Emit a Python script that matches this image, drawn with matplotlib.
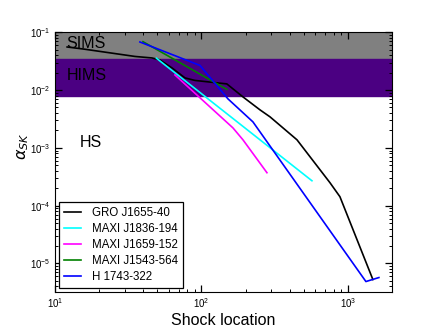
import matplotlib
matplotlib.use('Agg')
import matplotlib.pyplot as plt

# valores (x = posição do choque, y = alpha_SK)
gro_x = [12.1, 15.5, 35.2, 45.9, 52.1, 62.9, 77.2, 90.3, 149, 192, 251, 294, 449, 754, 882, 1481]
gro_y = [0.0557, 0.0515, 0.0382, 0.036, 0.0332, 0.0242, 0.01625, 0.0147, 0.0128, 0.00763,
         0.00455, 0.00344, 0.00138, 2.5e-4, 1.43e-4, 5.27e-6]

j1836_x = [49.3, 568]
j1836_y = [0.0356, 2.7e-4]

j1659_x = [65.9, 164, 192, 280]
j1659_y = [0.0183, 0.00222, 0.00138, 3.72e-4]

j1543_x = [39.9, 149]
j1543_y = [0.0688, 0.01028]

h1743_x = [38.0, 97.7, 151.7, 224.6, 1327, 1628]
h1743_y = [0.068, 0.0267, 0.00705, 0.00282, 4.87e-6, 5.71e-6]

series = [
    ('GRO J1655-40', gro_x, gro_y, 'black'),
    ('MAXI J1836-194', j1836_x, j1836_y, 'cyan'),
    ('MAXI J1659-152', j1659_x, j1659_y, 'magenta'),
    ('MAXI J1543-564', j1543_x, j1543_y, 'green'),
    ('H 1743-322', h1743_x, h1743_y, 'blue'),
]

# limites dos estados
sims_band = (0.0342, 0.1)
hims_band = (0.0079, 0.0342)

plt.rcParams['font.family'] = ['Liberation Sans', 'DejaVu Sans']

fig = plt.figure(figsize=(4.36, 3.27), dpi=100)
ax = fig.add_axes([55 / 436, 1 - 291.7 / 327, 337 / 436, 259.4 / 327])

ax.axhspan(*sims_band, color='#808080', zorder=0)
ax.axhspan(*hims_band, color='#4b0082', zorder=0)

for nome, xs, ys, cor in series:
    ax.plot(xs, ys, color=cor, lw=1.2, label=nome)

ax.set_xscale('log')
ax.set_yscale('log')
ax.set_xlim(10, 2000)
ax.set_ylim(3.25e-6, 0.1)

ax.text(11.9, 0.0628, 'SIMS', fontsize=11.5, va='center', ha='left')
ax.text(12.1, 0.0182, 'HIMS', fontsize=11.5, va='center', ha='left')
ax.text(14.8, 0.00122, 'HS', fontsize=11.5, va='center', ha='left')

ax.set_xlabel('Shock location', fontsize=11.5, labelpad=2)
ax.set_ylabel(r'$\alpha_{SK}$', fontsize=11.5)
ax.yaxis.set_label_coords(-0.07, 0.56)

ax.tick_params(which='both', direction='in', top=True, right=True, labelsize=7)
ax.tick_params(which='major', length=5, width=0.9)
ax.tick_params(which='minor', length=2.5, width=0.7)

leg = ax.legend(loc='lower left', fontsize=8.3, fancybox=False, edgecolor='black',
                framealpha=1, borderaxespad=0.35, handlelength=1.5, handletextpad=1.0,
                labelspacing=0.35)
leg.get_frame().set_linewidth(0.9)

plt.savefig('out.png', dpi=100)
